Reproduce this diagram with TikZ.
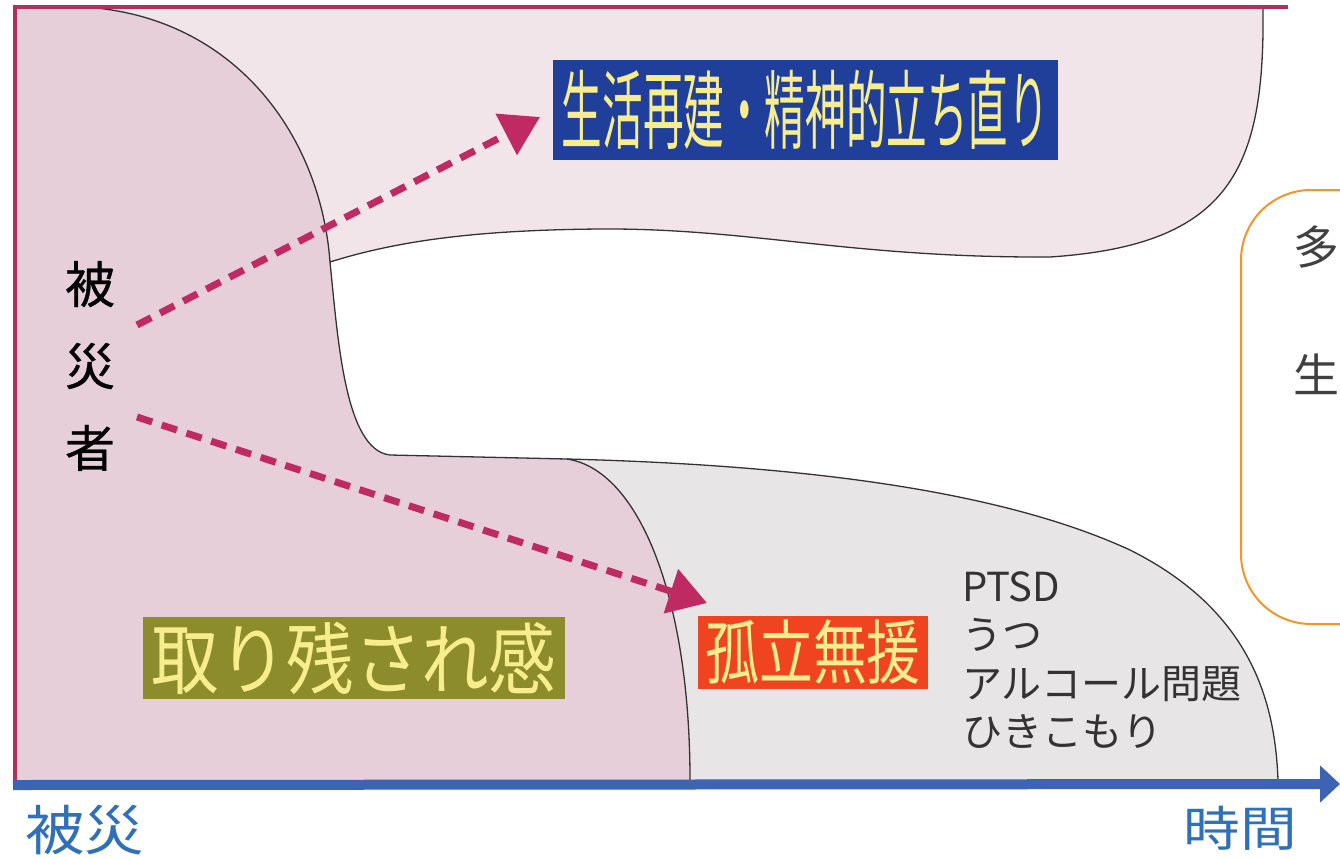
\documentclass[tikz,border=0pt]{standalone}
\usepackage{fontspec}
\usepackage{graphicx}
\setmainfont{Noto Sans CJK JP}
\usetikzlibrary{arrows.meta}
\definecolor{pinkmain}{HTML}{E6CFD8}
\definecolor{pinklight}{HTML}{F1E5EA}
\definecolor{greyreg}{HTML}{E8E5E7}
\definecolor{crimson}{HTML}{B0305C}
\definecolor{arrowred}{HTML}{C02A62}
\definecolor{axisblue}{HTML}{3D63B5}
\definecolor{boxblue}{HTML}{1F3F9B}
\definecolor{boxyellow}{HTML}{F7EC8E}
\definecolor{olive}{HTML}{8C8C2C}
\definecolor{boxred}{HTML}{F0431F}
\definecolor{orangeline}{HTML}{F0962A}
\definecolor{textgrey}{HTML}{333333}
\definecolor{labelblue}{HTML}{3070B8}
\tikzset{
  outline/.style={draw=black!80, line width=1.3pt},
  dasharrow/.style={draw=arrowred, line width=7pt, dash pattern=on 16pt off 10pt,
    -{Triangle[length=38pt,width=45pt]}},
  labelbox/.style={inner sep=0pt, text=boxyellow},
}
\begin{document}
\begin{tikzpicture}[x=1pt,y=-1pt]
\path[use as bounding box] (0,0) rectangle (1340,857);
\clip (0,0) rectangle (1340,857);
\fill[white] (0,0) rectangle (1340,857);

% upper light pink region
\fill[pinklight] (83,7) -- (1263,7)
  .. controls (1265,170) and (1230,245) .. (1050,257)
  .. controls (850,258) and (750,228) .. (600,229)
  .. controls (480,230) and (400,240) .. (330,262) -- cycle;
% grey region
\fill[greyreg] (390,455) -- (567,459)
  .. controls (800,465) and (1000,490) .. (1130,550)
  .. controls (1250,610) and (1275,700) .. (1278,785)
  -- (690,785) -- cycle;
% main pink region
\fill[pinkmain] (13,7) -- (83,7)
  .. controls (230,15) and (320,130) .. (330,262)
  .. controls (338,340) and (345,450) .. (390,455)
  -- (567,459)
  .. controls (640,470) and (690,600) .. (690,785)
  -- (13,785) -- cycle;

% outlines
\draw[outline] (83,7)
  .. controls (230,15) and (320,130) .. (330,262)
  .. controls (338,340) and (345,450) .. (390,455)
  -- (567,459)
  .. controls (640,470) and (690,600) .. (690,780);
\draw[outline] (1263,7)
  .. controls (1265,170) and (1230,245) .. (1050,257)
  .. controls (850,258) and (750,228) .. (600,229)
  .. controls (480,230) and (400,240) .. (330,262);
\draw[outline] (567,459)
  .. controls (800,465) and (1000,490) .. (1130,550)
  .. controls (1250,610) and (1275,700) .. (1278,780);

% frame lines
\draw[crimson, line width=4pt] (13,7) -- (1288,7);
\draw[crimson, line width=3.5pt] (15,7) -- (15,785);

% time axis
\coordinate (ax0) at (13,785);
\coordinate (ax1) at (1340,784);
\draw[axisblue, line width=10pt, -{Triangle[length=20pt,width=36pt]}] (ax0) -- (ax1);

% labels
\node[labelbox, fill=boxblue, minimum width=505pt, minimum height=100pt] (recover) at (805.5,110)
  {\scalebox{0.472}[1]{\fontsize{86}{86}\selectfont 生活再建・精神的立ち直り}};
\node[labelbox, fill=olive, minimum width=422pt, minimum height=82pt] (leftbehind) at (354,658)
  {\scalebox{0.865}[1]{\fontsize{78}{78}\selectfont 取り残され感}};
\node[labelbox, fill=boxred, minimum width=230pt, minimum height=73pt] (isolated) at (813,652)
  {\scalebox{0.77}[1]{\fontsize{70}{70}\selectfont 孤立無援}};

\node[align=center, inner sep=0pt, text=black, font=\fontsize{50}{82}\selectfont\addfontfeatures{FakeBold=0.6}] (victims) at (90,366)
  {被\\災\\者};

\node[anchor=north west, align=left, inner sep=0pt, text=textgrey, font=\fontsize{40}{48.5}\selectfont] (problems) at (962,571)
  {PTSD\\うつ\\アルコール問題\\ひきこもり};

\node[inner sep=0pt, text=labelblue] (disaster) at (85,830)
  {\scalebox{1.1}[1]{\fontsize{54}{54}\selectfont 被災}};
\node[inner sep=0pt, text=labelblue] (time) at (1240,828)
  {\scalebox{1.18}[1]{\fontsize{48}{48}\selectfont 時間}};

% orange rounded box (cut by the right edge)
\draw[orangeline, line width=2pt, rounded corners=70pt] (1241,190) rectangle (1440,624);
\node[anchor=west, inner sep=0pt, text=black!75] (note1) at (1293,247)
  {\fontsize{46}{46}\selectfont 多};
\node[anchor=west, inner sep=0pt, text=black!75] (note2) at (1293,374)
  {\fontsize{46}{46}\selectfont 生};

% dashed arrows
\coordinate (a1s) at (137,325);
\coordinate (a1e) at (540,117);
\coordinate (a2s) at (137,417);
\coordinate (a2e) at (707,603);
\draw[dasharrow] (a1s) -- (a1e);
\draw[dasharrow] (a2s) -- (a2e);
\end{tikzpicture}
\end{document}
